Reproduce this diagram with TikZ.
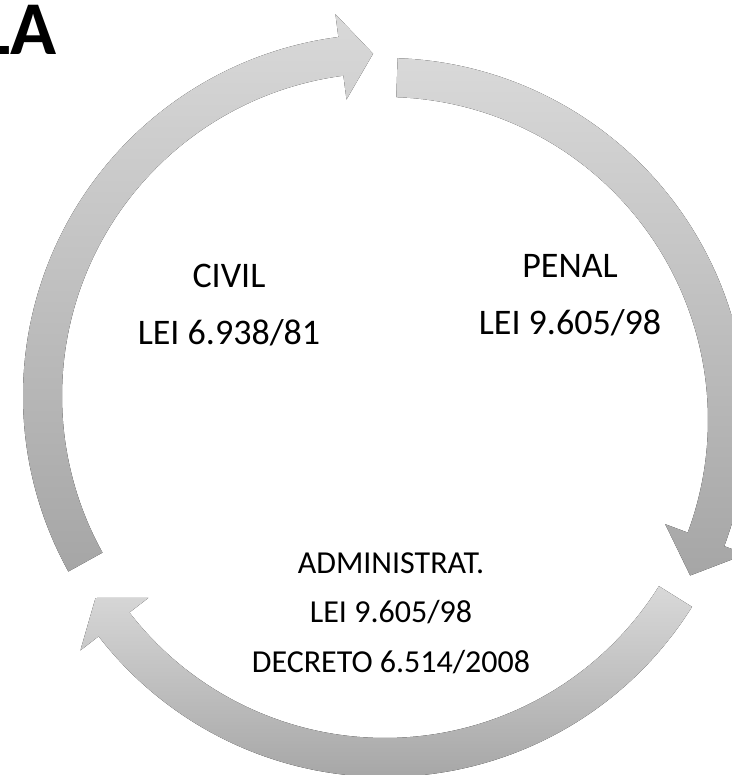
\documentclass[tikz,border=0pt]{standalone}
\usepackage{fontspec}
\setmainfont{Carlito}
\usepackage{tikz}
\usetikzlibrary{positioning}
\tikzset{
    cyclearrow/.style={draw=none, top color=gray!30, bottom color=gray!70},
    lawtext/.style={inner sep=0pt, font=\fontsize{36}{43}\selectfont},
    lawsmall/.style={inner sep=0pt, font=\fontsize{32}{38}\selectfont},
    titletext/.style={inner sep=0pt, font=\bfseries\fontsize{76}{90}\selectfont},
}

\begin{document}
\begin{tikzpicture}[x=1pt, y=1pt]
        \useasboundingbox (0,0) rectangle (731,775);

        \node[titletext, anchor=base east] (title) at (57,720) {LA};

        \begin{scope}[shift={(385,379)}]
            \fill[cyclearrow] (209:362) arc[start angle=209, end angle=97.4, radius=362] -- (97.4:385) -- (92:342.5) -- (97.4:299) -- (97.4:323) arc[start angle=97.4, end angle=209, radius=323] -- cycle;
        \end{scope}
        \begin{scope}[shift={(385,355)}]
            \fill[cyclearrow] (88:362) arc[start angle=88, end angle=-20.4, radius=362] -- (-20.4:385) -- (-27:342.5) -- (-20.4:299) -- (-20.4:323) arc[start angle=-20.4, end angle=88, radius=323] -- cycle;
        \end{scope}
        \begin{scope}[shift={(385,360)}]
            \fill[cyclearrow] (-32:362) arc[start angle=-32, end angle=-142.3, radius=362] -- (-142.3:385) -- (-147.7:342.5) -- (-142.3:299) -- (-142.3:323) arc[start angle=-142.3, end angle=-32, radius=323] -- cycle;
        \end{scope}

        \node[lawtext, anchor=base] (civil) at (229,487) {CIVIL};
        \node[lawtext, below=57pt of civil.base, anchor=base] (civillaw) {LEI 6.938/81};

        \node[lawtext, anchor=base] (penal) at (570,497) {PENAL};
        \node[lawtext, below=57pt of penal.base, anchor=base] (penallaw) {LEI 9.605/98};

        \node[lawsmall, anchor=base] (admin) at (391,201) {ADMINISTRAT.};
        \node[lawsmall, below=49pt of admin.base, anchor=base] (adminlaw) {LEI 9.605/98};
        \node[lawsmall, below=50pt of adminlaw.base, anchor=base] (admindecree) {DECRETO 6.514/2008};
    \end{tikzpicture}
\end{document}
